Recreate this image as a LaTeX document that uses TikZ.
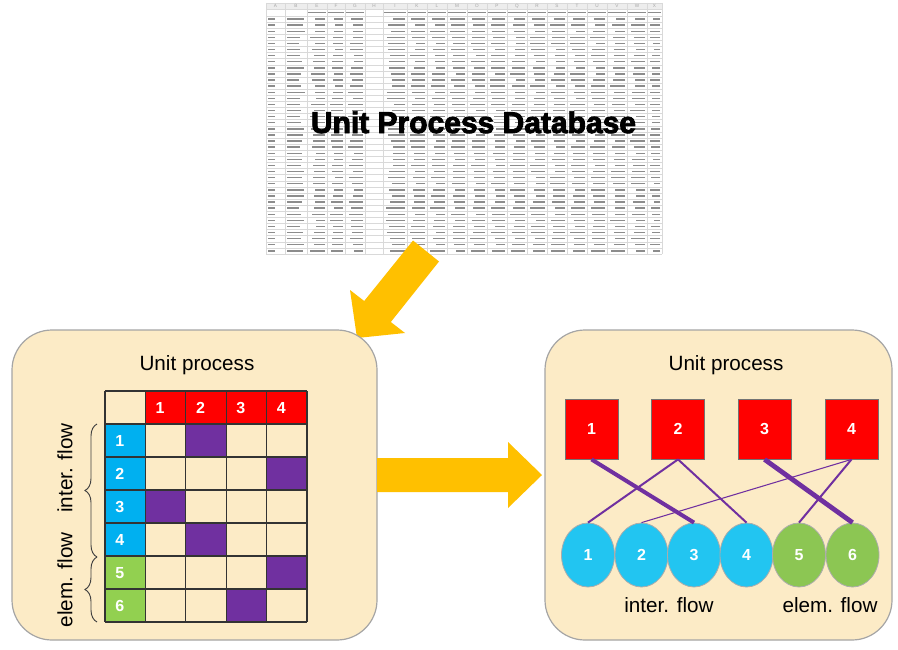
\documentclass[tikz,border=0pt]{standalone}
\usepackage{fontspec}
\setmainfont{Liberation Sans}
\newfontfamily\heavyfont{Liberation Sans}[FakeBold=3]
\usetikzlibrary{decorations.pathreplacing,shapes.geometric}
\definecolor{gold}{HTML}{FFC000}
\definecolor{panelbg}{HTML}{FCEBC6}
\definecolor{panelln}{HTML}{A5A5A5}
\definecolor{cellred}{HTML}{FF0000}
\definecolor{cellblue}{HTML}{00B0F0}
\definecolor{cellgreen}{HTML}{92D050}
\definecolor{cellpurple}{HTML}{7030A0}
\definecolor{circblue}{HTML}{22C5F1}
\definecolor{circgreen}{HTML}{8CC653}
\tikzset{
  panel/.style={fill=panelbg, draw=panelln, line width=0.9pt, rounded corners=30pt},
  gridline/.style={draw=black!80, line width=1pt},
  num/.style={text=white, font=\bfseries\fontsize{12}{12}\selectfont, inner sep=0pt},
  ptitle/.style={font=\fontsize{15.5}{16}\selectfont, inner sep=0pt},
  flowlabel/.style={font=\fontsize{15.5}{16}\selectfont, inner sep=0pt},
  procbox/.style={fill=cellred, draw=black!55, line width=0.6pt, minimum width=39.75pt, minimum height=45pt, inner sep=0pt, text=white, font=\bfseries\fontsize{12}{12}\selectfont},
  flowcirc/.style={ellipse, minimum width=39.75pt, minimum height=48pt, inner sep=0pt, draw=gray!65, line width=0.6pt, text=white, font=\bfseries\fontsize{12}{12}\selectfont},
  link/.style={draw=cellpurple},
  sheetline/.style={draw=gray!30, line width=0.3pt},
  cellbar/.style={draw=black!45, line width=1.1pt},
  hdrletter/.style={font=\fontsize{3.5}{3.5}\selectfont, text=gray!70, inner sep=0pt},
  flowbrace/.style={decorate, decoration={brace, amplitude=9pt}, draw=black!75, line width=0.7pt}
}
\begin{document}
\begin{tikzpicture}[x=0.75pt, y=-0.75pt]
\useasboundingbox (0,0) rectangle (898,649);
\fill[white] (0,0) rectangle (898,649);

% ---------------- spreadsheet ----------------
\fill[white] (266,3) rectangle (662,254);
\fill[gray!14] (266,3) rectangle (662,9);
\foreach \x in {266,285,307,327,345,365,383,407,427,447,467,487,507,527,547,567,587,607,627,647,662}
  \draw[sheetline] (\x,3) -- (\x,254);
\draw[sheetline] (266,3) -- (662,3);
\draw[sheetline] (266,9) -- (662,9);
\foreach \r in {0,...,39}
  \draw[sheetline] (266,{16+6.1*\r}) -- (662,{16+6.1*\r});
\foreach \l/\cx in {A/275.5,B/296,E/317,F/336,G/355,H/374,I/395,K/417,L/437,M/457,O/477,P/497,Q/517,R/537,S/557,T/577,U/597,V/617,W/637,X/654.5}
  \node[hdrletter] (hl\l) at (\cx,6) {\l};
% column names row
\foreach \a/\b in {307/327,327/345,345/365,383/407,407/427,427/447,447/467,467/487,487/507,507/527,527/547,547/567,567/587,587/607,607/627,627/647,647/662}
  \draw[cellbar, line width=0.9pt] (\a+1,12.5) -- (\b-1,12.5);
\pgfmathsetseed{7}
\foreach \r in {0,...,38} {
  \pgfmathsetmacro\yy{19.05+6.1*\r}
  \draw[cellbar] (268,\yy) -- ++(7,0);
  \pgfmathsetmacro\nl{12+6*rnd}
  \draw[cellbar] (287,\yy) -- ++(\nl,0);
  \foreach \a/\b in {307/327,327/345,345/365,383/407,407/427,427/447,447/467,467/487,487/507,507/527,527/547,547/567,567/587,587/607,607/627,627/647,647/662} {
    \pgfmathsetmacro\ll{(\b-\a-4)*(0.55+0.4*rnd)}
    \draw[cellbar] (\b-2,\yy) -- ++(-\ll,0);
  }
}
\node[font=\heavyfont\bfseries\fontsize{22.5}{24}\selectfont, anchor=base, inner sep=0pt] (title) at (473.5,133) {Unit Process Database};

% ---------------- arrows ----------------
\fill[gold] (413,240.5) -- (364.2,301) -- (350,290) -- (357,338) -- (405,333) -- (390.8,322) -- (439,261.5) -- cycle;

% ---------------- left panel ----------------
\draw[panel] (12,330) rectangle (377,640);
\node[ptitle] (ltitle) at (197,365) {Unit process};
\foreach \c in {1,...,4}
  \fill[cellred] ({105+40.4*\c},391) rectangle ++(40.4,33);
\foreach \r/\col in {1/cellblue,2/cellblue,3/cellblue,4/cellblue,5/cellgreen,6/cellgreen}
  \fill[\col] (105,{391+33*\r}) rectangle ++(40.4,33);
\foreach \r/\c in {1/2,2/4,3/1,4/2,5/4,6/3}
  \fill[cellpurple] ({105+40.4*\c},{391+33*\r}) rectangle ++(40.4,33);
\foreach \i in {0,...,5}
  \draw[gridline] ({105+40.4*\i},391) -- ({105+40.4*\i},622);
\foreach \j in {0,...,7}
  \draw[gridline] (105,{391+33*\j}) -- (307,{391+33*\j});
\foreach \c in {1,...,4}
  \node[num, anchor=west] (hc\c) at ({105+40.4*\c+10},408) {\c};
\foreach \r in {1,...,6}
  \node[num, anchor=west] (rc\r) at (115,{391+33*\r+17}) {\r};
\draw[flowbrace] (97,557) -- (97,424);
\draw[flowbrace] (97,622) -- (97,557);
\node[flowlabel, rotate=90] (lint) at (65,468) {inter. flow};
\node[flowlabel, rotate=90] (lelem) at (65,580) {elem. flow};

% ---------------- horizontal arrow ----------------
\fill[gold] (377,458) -- (508,458) -- (508,442) -- (542,475) -- (508,508) -- (508,492) -- (377,492) -- cycle;

% ---------------- right panel ----------------
\draw[panel] (545,330) rectangle (892,640);
\node[ptitle] (rtitle) at (726,365) {Unit process};
\node[procbox] (s1) at (591.5,429) {1};
\node[procbox] (s2) at (678,429) {2};
\node[procbox] (s3) at (764.5,429) {3};
\node[procbox] (s4) at (851.5,429) {4};
\node[flowcirc, fill=circblue] (c1) at (588,555) {1};
\node[flowcirc, fill=circblue] (c2) at (641.5,555) {2};
\node[flowcirc, fill=circblue] (c3) at (694,555) {3};
\node[flowcirc, fill=circblue] (c4) at (746.5,555) {4};
\node[flowcirc, fill=circgreen] (c5) at (799,555) {5};
\node[flowcirc, fill=circgreen] (c6) at (852.5,555) {6};
\draw[link, line width=3pt] (s1.south) -- (c3.north);
\draw[link, line width=1.5pt] (s2.south) -- (c1.north);
\draw[link, line width=1.5pt] (s2.south) -- (c4.north);
\draw[link, line width=3.6pt] (s3.south) -- (c6.north);
\draw[link, line width=0.8pt] (s4.south) -- (c2.north);
\draw[link, line width=1.5pt] (s4.south) -- (c5.north);
\node[flowlabel] (rint) at (669,605) {inter. flow};
\node[flowlabel] (relem) at (830,605) {elem. flow};
\end{tikzpicture}
\end{document}
